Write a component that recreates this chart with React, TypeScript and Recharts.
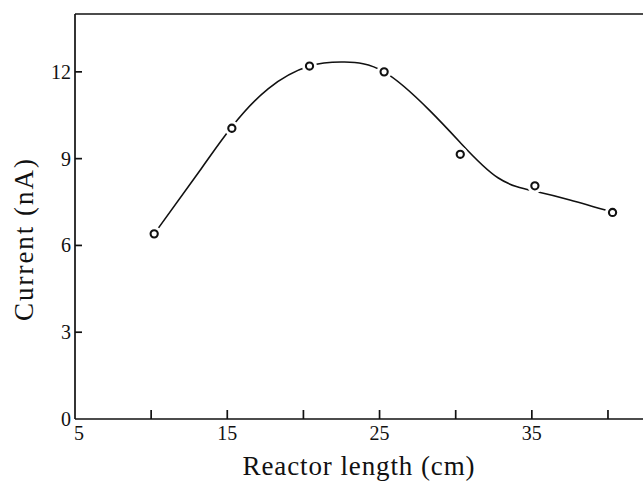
import {
  ComposedChart,
  Line,
  ReferenceLine,
  Scatter,
  XAxis,
  YAxis,
  Label,
} from "recharts";

// measured points (open circles)
const pointX = [10.2, 15.3, 20.4, 25.3, 30.3, 35.2, 40.3];
const pointY = [6.4, 10.05, 12.2, 12.0, 9.15, 8.06, 7.14];

// hand-drawn smooth curve
const curveX = [10.2, 13.3, 15.3, 17.7, 20.4, 22.7, 25.3, 28.3, 30.4, 32.8, 35.2, 37.5, 40.3];
const curveY = [6.4, 8.66, 10.1, 11.42, 12.2, 12.34, 12.0, 10.66, 9.5, 8.33, 7.87, 7.57, 7.15];

const xTicks = [5, 10, 15, 20, 25, 30, 35, 40];
const xTickLabels = [5, 15, 25, 35];
const yTicks = [0, 3, 6, 9, 12];

const points = pointX.map((x, i) => ({ x, y: pointY[i] }));
const curve = curveX.map((x, i) => ({ x, y: curveY[i] }));

const INK = "#111";
const FONT = "Liberation Serif, DejaVu Serif, serif";

function XTick({ x, y, payload }: any) {
  const v = payload.value;
  return (
    <g>
      {v !== 5 && (
        <line x1={x} x2={x} y1={y} y2={y - 9} stroke={INK} strokeWidth={1.7} />
      )}
      {xTickLabels.includes(v) && (
        <text
          x={x + (v === 5 ? 4 : 0)}
          y={y + 21}
          textAnchor="middle"
          style={{ fontFamily: FONT, fontSize: 20 }}
          fill={INK}
        >
          {v}
        </text>
      )}
    </g>
  );
}

function YTick({ x, y, payload }: any) {
  const v = payload.value;
  return (
    <g>
      {v !== 0 && (
        <line x1={x} x2={x + 7} y1={y} y2={y} stroke={INK} strokeWidth={1.7} />
      )}
      <text
        x={x - 4}
        y={y + 7}
        textAnchor="end"
        style={{ fontFamily: FONT, fontSize: 20 }}
        fill={INK}
      >
        {v}
      </text>
    </g>
  );
}

function OpenCircle({ cx, cy }: any) {
  return (
    <g>
      <circle cx={cx} cy={cy} r={7.5} fill="#fff" />
      <circle cx={cx} cy={cy} r={3.6} fill="#fff" stroke={INK} strokeWidth={2.1} />
    </g>
  );
}

export default function App() {
  return (
    <div
      style={{
        position: "absolute",
        left: 0,
        top: 0,
        width: 643,
        height: 481,
        background: "#fff",
      }}
    >
      <ComposedChart
        width={643}
        height={481}
        margin={{ top: 14, right: 0, bottom: 32, left: 0 }}
      >
        <XAxis
          type="number"
          dataKey="x"
          domain={[5, 42.3]}
          ticks={xTicks}
          allowDataOverflow
          height={30}
          tickSize={0}
          tickMargin={0}
          tickLine={false}
          tick={<XTick />}
          axisLine={{ stroke: INK, strokeWidth: 1.7 }}
        >
          <Label
            content={() => (
              <text
                x={359}
                y={475}
                textAnchor="middle"
                style={{ fontFamily: FONT, fontSize: 27, letterSpacing: 0.9 }}
                fill={INK}
              >
                Reactor length (cm)
              </text>
            )}
          />
        </XAxis>
        <YAxis
          type="number"
          domain={[0, 14]}
          ticks={yTicks}
          allowDataOverflow
          width={75}
          tickSize={0}
          tickMargin={0}
          tickLine={false}
          tick={<YTick />}
          axisLine={{ stroke: INK, strokeWidth: 1.7 }}
        >
          <Label
            content={() => (
              <text
                x={33}
                y={239}
                transform="rotate(-90 33 239)"
                textAnchor="middle"
                style={{ fontFamily: FONT, fontSize: 27, letterSpacing: 2 }}
                fill={INK}
              >
                Current (nA)
              </text>
            )}
          />
        </YAxis>
        <ReferenceLine y={14} stroke={INK} strokeWidth={1.7} />
        <Line
          data={curve}
          dataKey="y"
          type="natural"
          stroke={INK}
          strokeWidth={1.6}
          dot={false}
          activeDot={false}
          isAnimationActive={false}
        />
        <Scatter
          data={points}
          dataKey="y"
          shape={<OpenCircle />}
          isAnimationActive={false}
        />
      </ComposedChart>
    </div>
  );
}
